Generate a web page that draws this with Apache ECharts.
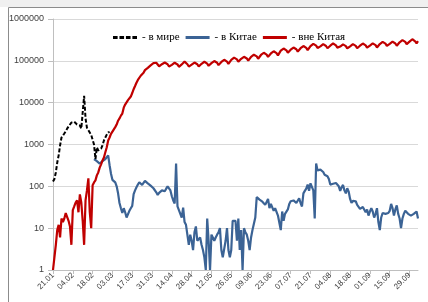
<!DOCTYPE html>
<html>
<head>
<meta charset="utf-8">
<script src="https://cdn.jsdelivr.net/npm/echarts@6/dist/echarts.min.js"></script>
<style>
  html, body { margin: 0; padding: 0; background: #fff; }
  #chart { width: 428px; height: 302px; }
</style>
</head>
<body>
<div id="chart"></div>
<script>
// daily new cases, day 0 = 21.01
const startDate = Date.UTC(2020, 0, 21);
const dayCount = 259;

// в мире (world), days 0..40
const worldVals = [
  130, 150, 215, 370, 550, 950, 1470, 1630, 1830, 2060,
  2400, 2700, 3000, 3340, 3720, 3500, 3200, 3000, 2700, 2850,
  2400, 2500, 14500, 4200, 2500, 2200, 2060, 1700, 1300, 1000,
  450, 850, 720, 650, 800, 950, 1250, 1470, 1720, 1940, 2000
];

// в Китае (China), starts at day 29
const chinaStart = 29;
const chinaVals = [
  450, 415, 400, 380, 350, 370, 400, 420, 450, 500,
  550, 320, 200, 143, 130, 124, 100, 68, 40, 30,
  23, 30, 24, 18, 20, 26, 30, 34, 65, 80,
  95, 110, 125, 120, 108, 120, 135, 125, 118, 112,
  104, 100, 90, 82, 72, 62, 70, 78, 80, 74,
  76, 88, 100, 106, 80, 58, 46, 39, 350, 33,
  36, 22, 18, 31, 14, 12, 13, 4, 7, 5,
  3, 8, 11, 5, 5, 6, 4, 3, 2, 1,
  17, 5, 1, 7, 6, 5, 6, 7, 8, 10,
  3, 2, 2, 5, 10, 3, 2, 3, 15, 16,
  15, 5, 17, 3, 9, 1, 10, 8, 7, 5,
  3, 6, 9, 10, 18, 55, 52, 48, 46, 43,
  39, 36, 34, 50, 30, 38, 35, 26, 30, 32,
  20, 18, 9, 25, 15, 22, 24, 28, 38, 44,
  45, 46, 44, 40, 42, 52, 40, 33, 68, 78,
  88, 110, 78, 118, 122, 80, 17, 350, 240, 230,
  250, 236, 220, 190, 180, 175, 150, 110, 118, 115,
  125, 120, 108, 100, 78, 95, 108, 80, 68, 90,
  75, 50, 40, 45, 48, 44, 36, 33, 29, 27,
  32, 30, 24, 28, 20, 25, 30, 25, 18, 22,
  30, 14, 9, 18, 23, 25, 22, 20, 23, 26,
  38, 30, 20, 28, 35, 22, 17, 10, 17, 22,
  26, 25, 22, 21, 20, 19, 22, 24, 25, 17
];

// вне Китая (outside China), days 0..258
const outsideVals = [
  1, 2, 4, 9, 12, 6, 17, 14, 17, 23,
  24, 15, 11, 4, 27, 33, 41, 46, 24, 64,
  41, 15, 4, 46, 80, 155, 24, 10, 106, 124,
  139, 183, 215, 280, 335, 415, 490, 650, 860, 1250,
  1470, 1790, 1940, 2300, 2600, 3000, 3700, 4200, 4900, 5500,
  7600, 9000, 10000, 11500, 12500, 14000, 17000, 21000, 25000, 30000,
  35000, 39000, 44000, 48000, 52000, 60000, 64000, 68000, 72000, 78000,
  82000, 88000, 92000, 90000, 84000, 74000, 70000,
  83000, 89000, 91000, 90000, 83000, 73000, 69000,
  80000, 87000, 90000, 88000, 82000, 72000, 68000,
  82000, 89000, 96000, 92000, 83000, 73000, 70000,
  81000, 87000, 91000, 89000, 83000, 73000, 69000,
  85000, 91000, 95000, 93000, 86000, 76000, 71000,
  88000, 95000, 99000, 97000, 90000, 79000, 75000,
  94000, 102000, 106000, 103000, 96000, 85000, 80000,
  105000, 114000, 119000, 116000, 108000, 95000, 90000,
  112000, 121000, 125000, 123000, 114000, 101000, 95000,
  125000, 135000, 140000, 137000, 128000, 112000, 106000,
  138000, 149000, 156000, 152000, 141000, 124000, 117000,
  150000, 162000, 169000, 165000, 153000, 135000, 128000,
  175000, 189000, 197000, 192000, 178000, 157000, 149000,
  185000, 200000, 208000, 203000, 189000, 166000, 157000,
  200000, 216000, 226000, 220000, 204000, 180000, 170000,
  225000, 243000, 255000, 248000, 230000, 203000, 191000,
  222000, 240000, 250000, 244000, 226000, 200000, 189000,
  230000, 248000, 260000, 253000, 235000, 207000, 196000,
  220000, 238000, 247000, 242000, 225000, 198000, 187000,
  222000, 240000, 250000, 244000, 227000, 200000, 189000,
  230000, 248000, 259000, 253000, 235000, 207000, 196000,
  232000, 250000, 262000, 255000, 237000, 209000, 197000,
  252000, 272000, 284000, 277000, 257000, 227000, 214000,
  255000, 275000, 288000, 281000, 260000, 230000, 217000,
  278000, 300000, 313000, 306000, 284000, 250000, 236000,
  287000, 310000, 328000, 316000, 293000, 262000, 295000
];

const days = [];
for (let i = 0; i < dayCount; i++) {
  const d = new Date(startDate + i * 86400000);
  const dd = String(d.getUTCDate()).padStart(2, '0');
  const mm = String(d.getUTCMonth() + 1).padStart(2, '0');
  days.push(dd + '.' + mm);
}

const chinaData = new Array(chinaStart).fill(null).concat(chinaVals);

const chart = echarts.init(document.getElementById('chart'));

// dashed legend mark for the world series
const dashIcon = 'path://M0 0H5V3H0Z M7 0H12V3H7Z M14 0H19V3H14Z M21 0H26V3H21Z';

const option = {
  backgroundColor: '#fff',
  animation: false,
  graphic: [
    { type: 'rect', shape: { x: 0, y: 0, width: 428, height: 7 }, style: { fill: '#f0f0f0' }, silent: true },
    { type: 'rect', shape: { x: 8.5, y: 7.5, width: 440, height: 310 }, style: { fill: null, stroke: '#8c8c8c', lineWidth: 1 }, silent: true }
  ],
  grid: { left: 53, right: 10, top: 19, bottom: 32 },
  legend: {
    data: [
      { name: '- в мире', icon: dashIcon },
      { name: '- в Китае', icon: 'rect' },
      { name: '- вне Китая', icon: 'rect' }
    ],
    left: 108,
    top: 27,
    itemWidth: 24,
    itemHeight: 3,
    itemGap: 6,
    textStyle: { fontFamily: 'Liberation Serif', fontSize: 11, color: '#000' }
  },
  xAxis: {
    type: 'category',
    data: days,
    boundaryGap: false,
    axisLine: { lineStyle: { color: '#bfbfbf' } },
    axisTick: { interval: 13, length: 4, lineStyle: { color: '#bfbfbf' } },
    axisLabel: { interval: 13, rotate: 45, fontSize: 8, color: '#404040', margin: 4, fontFamily: 'Liberation Sans' },
    splitLine: { show: false }
  },
  yAxis: {
    type: 'log',
    logBase: 10,
    min: 1,
    max: 1000000,
    axisLine: { show: true, lineStyle: { color: '#bfbfbf' } },
    axisTick: { show: true, length: 5, lineStyle: { color: '#bfbfbf' } },
    axisLabel: {
      fontSize: 9, color: '#404040', margin: 9, fontFamily: 'Liberation Sans',
      formatter: v => String(Math.round(v))
    },
    splitLine: { lineStyle: { color: '#d9d9d9' } }
  },
  series: [
    {
      name: '- в Китае',
      type: 'line',
      data: chinaData,
      symbol: 'none',
      lineStyle: { color: '#3b6395', width: 2.2 },
      itemStyle: { color: '#3b6395' }
    },
    {
      name: '- в мире',
      type: 'line',
      data: worldVals,
      symbol: 'none',
      lineStyle: { color: '#000', width: 2, type: [4, 2] },
      itemStyle: { color: '#000' }
    },
    {
      name: '- вне Китая',
      type: 'line',
      data: outsideVals,
      symbol: 'none',
      lineStyle: { color: '#c00000', width: 2.2 },
      itemStyle: { color: '#c00000' }
    }
  ]
};

chart.setOption(option);
</script>
</body>
</html>
